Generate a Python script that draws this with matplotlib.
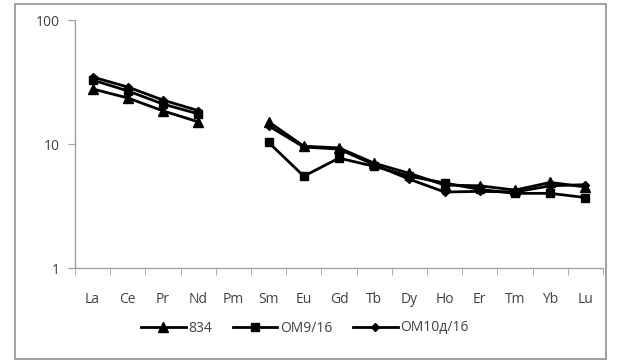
import numpy as np
import matplotlib.pyplot as plt
from matplotlib.patches import Rectangle
from matplotlib.ticker import FixedLocator, NullLocator

plt.rcParams['font.family'] = ['Open Sans', 'DejaVu Sans']

# REE elements (Pm has no data)
elements = ['La', 'Ce', 'Pr', 'Nd', 'Pm', 'Sm', 'Eu', 'Gd', 'Tb', 'Dy', 'Ho', 'Er', 'Tm', 'Yb', 'Lu']

s834 = [27.8, 23.5, 18.5, 15.1, np.nan, 15.1, 9.6, 9.3, 7.0, 5.8, 4.67, 4.6, 4.25, 4.9, 4.5]
om9 = [32.8, 26.8, 21.0, 17.5, np.nan, 10.3, 5.5, 7.7, 6.6, 5.5, 4.85, 4.3, 4.0, 4.0, 3.7]
om10 = [34.7, 28.8, 22.6, 18.6, np.nan, 14.0, 9.45, 9.1, 6.8, 5.2, 4.1, 4.15, 4.1, 4.6, 4.7]

series = [('834', s834, '^'), ('ОМ9/16', om9, 's'), ('ОМ10д/16', om10, 'D')]
marker_sizes = {'^': 6.5, 's': 6, 'D': 4.5}

fig = plt.figure(figsize=(6.19, 3.62), dpi=100)
ax = fig.add_axes([75 / 619, 1 - 268 / 362, 528 / 619, 248 / 362])

x = np.arange(len(elements))
for name, vals, mk in series:
    ax.plot(x, vals, color='black', lw=2, marker=mk, ms=marker_sizes[mk], label=name)

ax.set_yscale('log')
ax.set_ylim(1, 100)
ax.yaxis.set_major_locator(FixedLocator([1, 10, 100]))
ax.yaxis.set_minor_locator(NullLocator())
ax.set_yticklabels(['1', '10', '100'])

ax.set_xlim(-0.5, len(elements) - 0.5)
ax.set_xticks(x)
ax.set_xticklabels(elements)
ax.xaxis.set_minor_locator(FixedLocator(np.arange(-0.5, len(elements), 1.0)))
ax.tick_params(axis='x', which='major', length=0, pad=17)
ax.tick_params(axis='x', which='minor', length=5, color='#a0a0a0', direction='out')
ax.tick_params(axis='y', length=5, color='#a0a0a0', pad=6)
ax.tick_params(labelsize=10, labelcolor='#404040')

for side in ['top', 'right']:
    ax.spines[side].set_visible(False)
for side in ['left', 'bottom']:
    ax.spines[side].set_color('#a0a0a0')
    ax.spines[side].set_linewidth(1)

leg = fig.legend(loc='center', bbox_to_anchor=(305 / 619, 1 - 328 / 362), ncol=3,
                 frameon=False, fontsize=10, handlelength=3.2, columnspacing=1.5,
                 handletextpad=0.2, labelcolor='#404040')

fig.add_artist(Rectangle((15 / 619, 3 / 362), 591 / 619, 355 / 362,
                         transform=fig.transFigure, fill=False, ec='#909090', lw=1.2))

fig.savefig('out.png', dpi=100)
